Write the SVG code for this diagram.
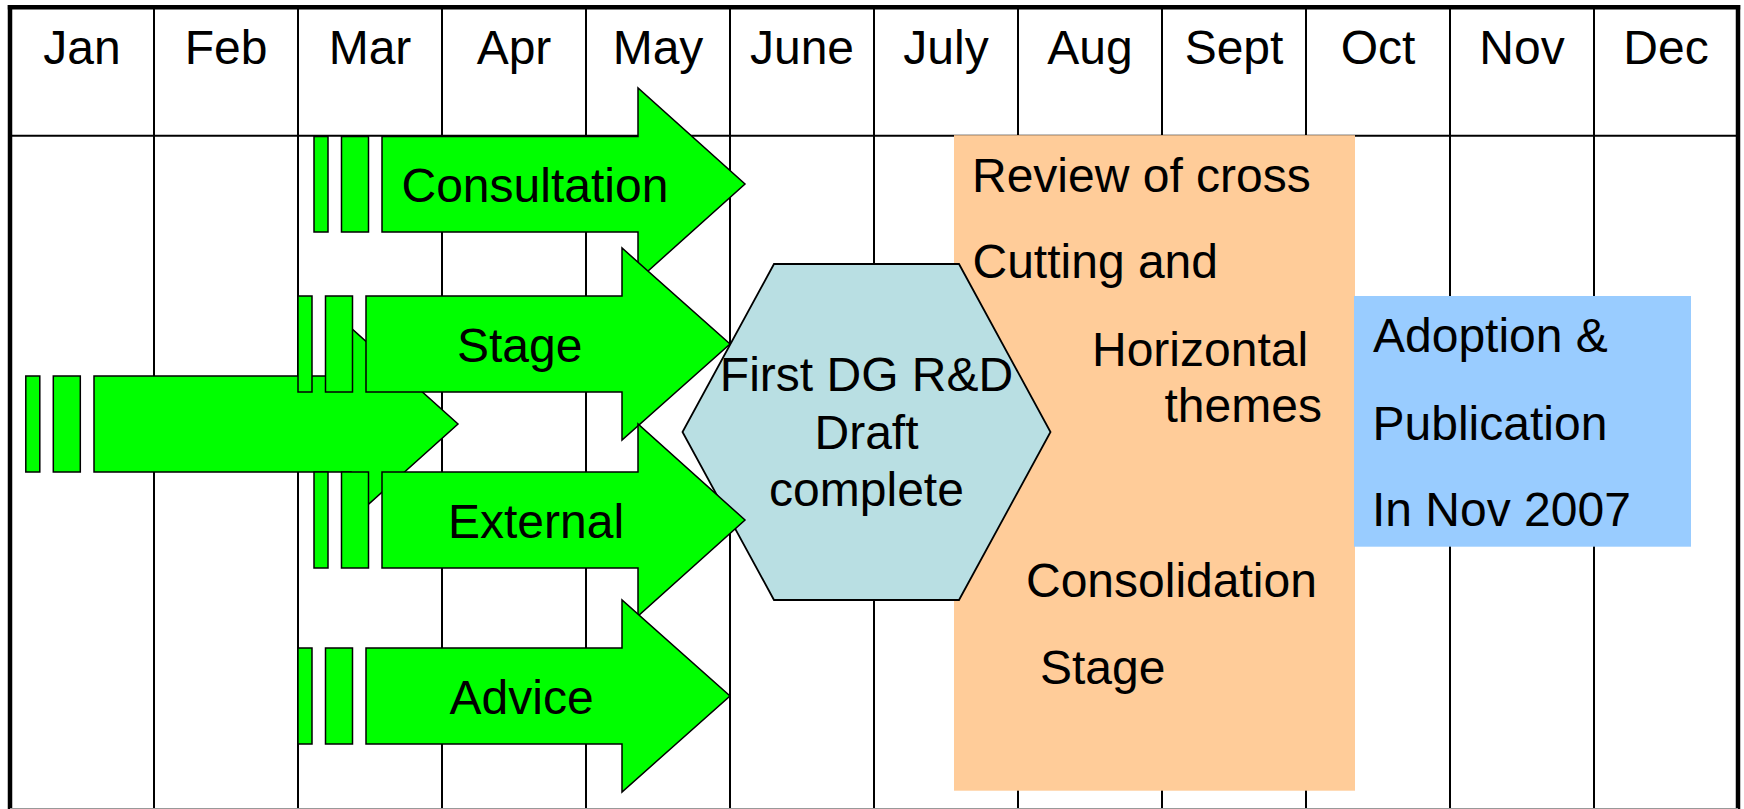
<svg xmlns="http://www.w3.org/2000/svg" width="1744" height="809" viewBox="0 0 1744 809">
<style>
.grid{stroke:#000;stroke-width:2;fill:none}
.border{stroke:#000;stroke-width:4.5;fill:none}
.arrow{fill:#00FF00;stroke:#000;stroke-width:1.5;stroke-linejoin:miter}
.t{font-family:"Liberation Sans",Arial,sans-serif;font-size:48px;fill:#000}
.c{text-anchor:middle}
</style>
<rect x="0" y="0" width="1744" height="809" fill="#fff"/>
<g id="grid">
<line class="grid" x1="10" y1="135.7" x2="1738" y2="135.7"/>
<line class="grid" x1="154" y1="8" x2="154" y2="809"/>
<line class="grid" x1="298" y1="8" x2="298" y2="809"/>
<line class="grid" x1="442" y1="8" x2="442" y2="809"/>
<line class="grid" x1="586" y1="8" x2="586" y2="809"/>
<line class="grid" x1="730" y1="8" x2="730" y2="809"/>
<line class="grid" x1="874" y1="8" x2="874" y2="809"/>
<line class="grid" x1="1018" y1="8" x2="1018" y2="809"/>
<line class="grid" x1="1162" y1="8" x2="1162" y2="809"/>
<line class="grid" x1="1306" y1="8" x2="1306" y2="809"/>
<line class="grid" x1="1450" y1="8" x2="1450" y2="809"/>
<line class="grid" x1="1594" y1="8" x2="1594" y2="809"/>
<line class="border" x1="7.8" y1="7.3" x2="1740.2" y2="7.3"/>
<line class="border" x1="10" y1="5" x2="10" y2="809"/>
<line class="border" x1="1738" y1="5" x2="1738" y2="809"/>
<line x1="10" y1="808.5" x2="1738" y2="808.5" stroke="#999" stroke-width="1"/>
</g>
<g id="months">
<text class="t c" x="82" y="64">Jan</text>
<text class="t c" x="226" y="64">Feb</text>
<text class="t c" x="370" y="64">Mar</text>
<text class="t c" x="514" y="64">Apr</text>
<text class="t c" x="658" y="64">May</text>
<text class="t c" x="802" y="64">June</text>
<text class="t c" x="946" y="64">July</text>
<text class="t c" x="1090" y="64">Aug</text>
<text class="t c" x="1234" y="64">Sept</text>
<text class="t c" x="1378" y="64">Oct</text>
<text class="t c" x="1522" y="64">Nov</text>
<text class="t c" x="1666" y="64">Dec</text>
</g>
<g id="consolidation">
<rect x="954" y="135.2" width="401" height="655.5" fill="#FFCC99"/>
<text class="t" x="972" y="191.5">Review of cross</text>
<text class="t" x="972.5" y="278">Cutting and</text>
<text class="t" x="1092" y="366">Horizontal</text>
<text class="t" x="1164.5" y="421.5">themes</text>
<text class="t" x="1026" y="597">Consolidation</text>
<text class="t" x="1040" y="683.5">Stage</text>
</g>
<g id="adoption">
<rect x="1354" y="296" width="337" height="250.7" fill="#99CCFF"/>
<text class="t" x="1373" y="352">Adoption &amp;</text>
<text class="t" x="1372.5" y="439.5">Publication</text>
<text class="t" x="1372" y="526">In Nov 2007</text>
</g>
<g id="start-arrow">
<rect class="arrow" x="25.8" y="376" width="14" height="96"/>
<rect class="arrow" x="53.3" y="376" width="27" height="96"/>
<path class="arrow" d="M94,376 H351 V328 L458,424 L351,520 V472 H94 Z"/>
</g>
<g id="consultation">
<rect class="arrow" x="314" y="136.5" width="14" height="95.5"/>
<rect class="arrow" x="341.5" y="136.5" width="27" height="95.5"/>
<path class="arrow" d="M382,136.5 H638 V88 L745,184 L638,280 V232 H382 Z"/>
<text class="t" x="401.5" y="201.7">Consultation</text>
</g>
<g id="stage">
<rect class="arrow" x="298" y="296" width="14" height="96"/>
<rect class="arrow" x="325.5" y="296" width="27" height="96"/>
<path class="arrow" d="M366,296 H622 V248 L730,344 L622,440 V392 H366 Z"/>
<text class="t" x="457" y="361.7">Stage</text>
</g>
<g id="draft">
<polygon points="774,264 959,264 1050.5,432 959,600 774,600 682.5,432" fill="#B9DFE3" stroke="#000" stroke-width="1.8"/>
<text class="t c" x="866.5" y="391">First DG R&amp;D</text>
<text class="t c" x="866.5" y="449">Draft</text>
<text class="t c" x="866.5" y="506">complete</text>
</g>
<g id="external">
<rect class="arrow" x="314" y="472" width="14" height="96"/>
<rect class="arrow" x="341.5" y="472" width="27" height="96"/>
<path class="arrow" d="M382,472 H638 V424 L745,520 L638,616 V568 H382 Z"/>
<text class="t" x="448" y="538.3">External</text>
</g>
<g id="advice">
<rect class="arrow" x="298" y="648" width="14" height="96"/>
<rect class="arrow" x="325.5" y="648" width="27" height="96"/>
<path class="arrow" d="M366,648 H622 V600 L730,696 L622,792 V744 H366 Z"/>
<text class="t" x="449.5" y="713.5">Advice</text>
</g>
<g id="connectors"></g>
</svg>
